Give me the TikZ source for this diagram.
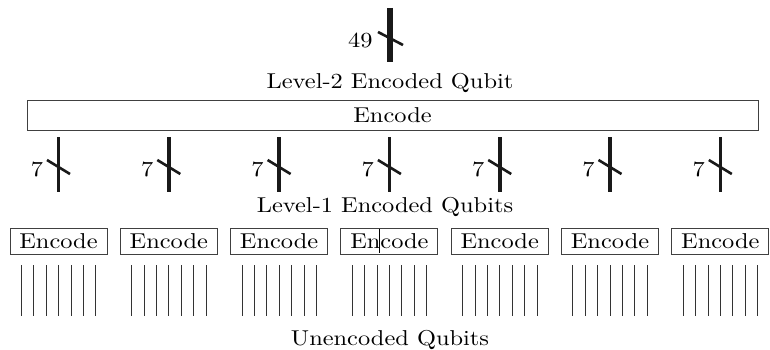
\documentclass[tikz,border=0pt]{standalone}
\begin{document}
\begin{tikzpicture}[x=1pt,y=-1pt,
  txt/.style={inner sep=0pt, xscale=2.44, yscale=2.15, font=\fontsize{10}{12}\selectfont},
  boxshape/.style={draw=black!75, line width=0.9pt, inner sep=0pt},
  bigwire/.style={line width=6pt, black!90},
  wire/.style={line width=3.6pt, black!90},
  slash/.style={line width=2.6pt, black!90},
  thin/.style={line width=0.8pt, black!80}]
\useasboundingbox (0,0) rectangle (770,350);
% top level-2 wire
\coordinate (tw1) at (390,8);
\coordinate (tw2) at (390,62);
\draw[bigwire] (tw1) -- (tw2);
\coordinate (ts1) at (378,32);
\coordinate (ts2) at (403,45);
\draw[slash] (ts1) -- (ts2);
\node[txt, anchor=base east] (n49) at (373,48) {49};
\node[txt, anchor=base] (l2) at (390,89) {Level-2 Encoded Qubit};
% big encode box
\node[boxshape, minimum width=731pt, minimum height=30pt] (big) at (392.5,115.5) {};
\node[txt] (bigt) at (big.center) {Encode};
\node[txt, anchor=base] (l1) at (385,212) {Level-1 Encoded Qubits};
\node[txt, anchor=base] (l0) at (390,345) {Unencoded Qubits};
% groups
\foreach \k in {0,...,6}{
  \pgfmathsetmacro{\cx}{58.5+110.3*\k}
  \coordinate (w\k a) at (\cx,137);
  \coordinate (w\k b) at (\cx,192);
  \draw[wire] (w\k a) -- (w\k b);
  \coordinate (s\k a) at (\cx-11.5,160);
  \coordinate (s\k b) at (\cx+11.5,174);
  \draw[slash] (s\k a) -- (s\k b);
  \node[txt, anchor=base east] (n\k) at (\cx-15,176) {7};
  \node[boxshape, minimum width=97pt, minimum height=26pt] (b\k) at (\cx,241) {};
  \node[txt] (bt\k) at (b\k.center) {Encode};
  \foreach \j in {-3,...,3}{
    \coordinate (q\k\j a) at (\cx+12.4*\j,265);
    \coordinate (q\k\j b) at (\cx+12.4*\j,316);
    \draw[thin] (q\k\j a) -- (q\k\j b);
  }
}
% stray vertical line in the fourth box
\coordinate (art1) at (379,229);
\coordinate (art2) at (379,253);
\draw[thin, black] (art1) -- (art2);
\end{tikzpicture}
\end{document}
